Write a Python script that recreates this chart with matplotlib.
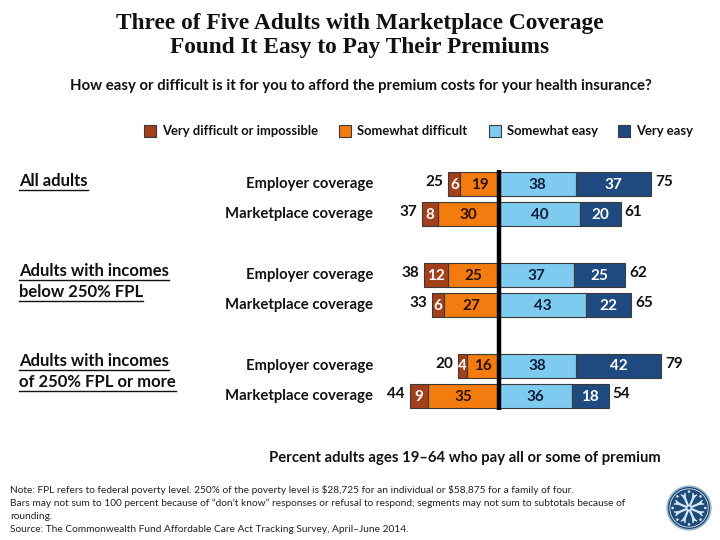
import matplotlib
matplotlib.use("Agg")
import matplotlib.pyplot as plt
import numpy as np
from matplotlib.patches import Circle
from matplotlib.lines import Line2D

# ---------------- data ----------------
groups = ["All adults", "Adults with incomes\nbelow 250% FPL", "Adults with incomes\nof 250% FPL or more"]
row_labels = ["Employer coverage", "Marketplace coverage"] * 3
very_difficult = [6, 8, 12, 6, 4, 9]
somewhat_difficult = [19, 30, 25, 27, 16, 35]
somewhat_easy = [38, 40, 37, 43, 38, 36]
very_easy = [37, 20, 25, 22, 42, 18]
total_difficult = [25, 37, 38, 33, 20, 44]
total_easy = [75, 61, 62, 65, 79, 54]
legend_labels = ["Very difficult or impossible", "Somewhat difficult", "Somewhat easy", "Very easy"]

C_VD = "#A3401B"
C_SD = "#F47B0E"
C_SE = "#7FCBF0"
C_VE = "#1F4A80"
EDGE = "#3a3a3a"

FONT = "Lato"
W, H = 720, 540
fig = plt.figure(figsize=(7.2, 5.4), dpi=100)
fig.patch.set_facecolor("white")

def fx(px):
    return px / W

def fy(py):
    return 1 - py / H

# ---------------- titles ----------------
fig.text(fx(360), fy(23), "Three of Five Adults with Marketplace Coverage", ha="center", va="center",
         fontsize=16.8, fontweight="bold", family="Liberation Serif", color="#111111")
fig.text(fx(360), fy(47), "Found It Easy to Pay Their Premiums", ha="center", va="center",
         fontsize=16.8, fontweight="bold", family="Liberation Serif", color="#111111")
fig.text(fx(361), fy(86), "How easy or difficult is it for you to afford the premium costs for your health insurance?",
         ha="center", va="center", fontsize=10.7, fontweight="bold", family=FONT, color="#111111")

# ---------------- legend ----------------
leg_sq_x = [144, 339, 489, 618]
leg_cols = [C_VD, C_SD, C_SE, C_VE]
for x0, c, lab in zip(leg_sq_x, leg_cols, legend_labels):
    fig.patches.append(plt.Rectangle((fx(x0), fy(137)), 12 / W, 12 / H, transform=fig.transFigure,
                                     facecolor=c, edgecolor=EDGE, linewidth=0.8))
    fig.text(fx(x0 + 18), fy(131), lab, ha="left", va="center", fontsize=9.4, fontweight="bold",
             family=FONT, color="#111111")

# ---------------- bar axes ----------------
PX_PER_UNIT = 2.03
CENTER = 499
ROW_PX = 30.3
Y0 = 184
ax_left_px, ax_right_px = 380, 700
ax_top_px, ax_bot_px = 160, 420
ax = fig.add_axes([fx(ax_left_px), fy(ax_bot_px), (ax_right_px - ax_left_px) / W, (ax_bot_px - ax_top_px) / H])
ax.set_xlim((ax_left_px - CENTER) / PX_PER_UNIT, (ax_right_px - CENTER) / PX_PER_UNIT)
ax.set_ylim((ax_bot_px - Y0) / ROW_PX, (ax_top_px - Y0) / ROW_PX)
ax.axis("off")

ypos = np.array([0, 1, 3, 4, 6, 7], dtype=float)
vd = np.array(very_difficult)
sd = np.array(somewhat_difficult)
se = np.array(somewhat_easy)
ve = np.array(very_easy)
bh = 0.8

ax.barh(ypos, -sd, height=bh, color=C_SD, edgecolor=EDGE, linewidth=0.8)
ax.barh(ypos, -vd, left=-sd, height=bh, color=C_VD, edgecolor=EDGE, linewidth=0.8)
ax.barh(ypos, se, height=bh, color=C_SE, edgecolor=EDGE, linewidth=0.8)
ax.barh(ypos, ve, left=se, height=bh, color=C_VE, edgecolor=EDGE, linewidth=0.8)

fs_num = 11
for i, y in enumerate(ypos):
    ax.text(-sd[i] / 2, y + 0.02, str(sd[i]), ha="center", va="center", fontsize=fs_num, fontweight="bold",
            family=FONT, color="#2a1200")
    ax.text(-sd[i] - vd[i] / 2, y + 0.02, str(vd[i]), ha="center", va="center", fontsize=fs_num,
            fontweight="bold", family=FONT, color="white")
    ax.text(se[i] / 2, y + 0.02, str(se[i]), ha="center", va="center", fontsize=fs_num, fontweight="bold",
            family=FONT, color="#0d1f3a")
    ax.text(se[i] + ve[i] / 2, y + 0.02, str(ve[i]), ha="center", va="center", fontsize=fs_num,
            fontweight="bold", family=FONT, color="white")
    ax.text(-(sd[i] + vd[i]) - 2.5, y - 0.07, str(total_difficult[i]), ha="right", va="center",
            fontsize=fs_num, fontweight="bold", family=FONT, color="#111111")
    ax.text(se[i] + ve[i] + 2.0, y - 0.07, str(total_easy[i]), ha="left", va="center",
            fontsize=fs_num, fontweight="bold", family=FONT, color="#111111")

ax.plot([0, 0], [-0.47, 7.47], color="black", linewidth=3.2, solid_capstyle="butt", zorder=5)

# ---------------- row labels ----------------
for i, y in enumerate(ypos):
    fig.text(fx(373), fy(Y0 + y * ROW_PX), row_labels[i], ha="right", va="center", fontsize=10.7,
             fontweight="bold", family=FONT, color="#111111")

# ---------------- group labels (underlined) ----------------
fig.canvas.draw()
renderer = fig.canvas.get_renderer()
group_y = [181, 271, 361]
line_h = 21
for g, lab in enumerate(groups):
    for j, line in enumerate(lab.split("\n")):
        yy = group_y[g] + j * line_h
        t = fig.text(fx(19), fy(yy), line, ha="left", va="center", fontsize=12, fontweight="bold",
                     family=FONT, color="#111111")
        bb = t.get_window_extent(renderer=renderer)
        uy = fy(yy + 9)
        fig.lines.append(Line2D([bb.x0 / W, bb.x1 / W], [uy, uy], transform=fig.transFigure,
                                color="#111111", linewidth=1.0))

# ---------------- axis caption ----------------
fig.text(fx(465), fy(458), "Percent adults ages 19\u201364 who pay all or some of premium", ha="center",
         va="center", fontsize=10.7, fontweight="bold", family=FONT, color="#111111")

# ---------------- notes ----------------
notes = [
    "Note: FPL refers to federal poverty level. 250% of the poverty level is \\$28,725 for an individual or \\$58,875 for a family of four.",
    "Bars may not sum to 100 percent because of \u201cdon\u2019t know\u201d responses or refusal to respond; segments may not sum to subtotals because of",
    "rounding.",
    "Source: The Commonwealth Fund Affordable Care Act Tracking Survey, April\u2013June 2014.",
]
for k, n in enumerate(notes):
    fig.text(fx(10), fy(490 + k * 13.3), n, ha="left", va="center", fontsize=7.3, family=FONT, color="#222222")

# ---------------- logo ----------------
cx, cy, r = 689, 508, 22
lax = fig.add_axes([fx(cx - r - 2), fy(cy + r + 2), (2 * r + 4) / W, (2 * r + 4) / H])
lax.set_xlim(-1.1, 1.1)
lax.set_ylim(-1.1, 1.1)
lax.set_aspect("equal")
lax.axis("off")
lax.add_patch(Circle((0, 0), 1.0, facecolor="#1E4A78", edgecolor="#9fb6cc", linewidth=1.2))
lax.add_patch(Circle((0, 0), 0.88, facecolor="none", edgecolor="#d8e4ef", linewidth=0.6))
for a in np.linspace(0, 2 * np.pi, 8, endpoint=False) + np.pi / 8:
    ca, sa = np.cos(a), np.sin(a)
    lax.plot([0.15 * ca, 0.6 * ca], [0.15 * sa, 0.6 * sa], color="#d6e6f4", linewidth=1.6)
    for d in (-0.35, 0.35):
        b = a + d
        lax.plot([0.45 * ca, 0.45 * ca + 0.25 * np.cos(b)], [0.45 * sa, 0.45 * sa + 0.25 * np.sin(b)],
                 color="#d6e6f4", linewidth=1.0)
    lax.add_patch(Circle((0.75 * np.cos(a + np.pi / 8), 0.75 * np.sin(a + np.pi / 8)), 0.06,
                         facecolor="#d6e6f4", edgecolor="none"))
lax.add_patch(Circle((0, 0), 0.14, facecolor="#d6e6f4", edgecolor="none"))
lax.add_patch(Circle((0, 0), 0.07, facecolor="#1E4A78", edgecolor="none"))

fig.savefig("out.png", dpi=100, facecolor="white")
